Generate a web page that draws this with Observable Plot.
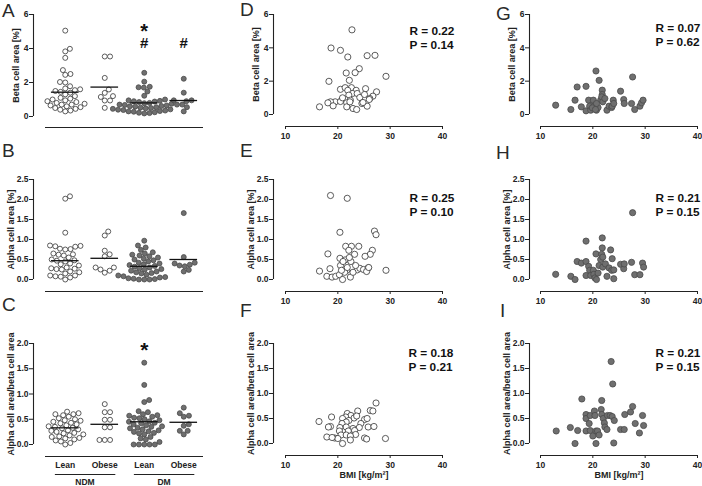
<!DOCTYPE html>
<html><head><meta charset="utf-8">
<script src="https://cdn.jsdelivr.net/npm/d3@7"></script>
<script src="https://cdn.jsdelivr.net/npm/@observablehq/plot@0.6"></script>
<style>
html,body{margin:0;padding:0;background:#fff;}
#fig{position:relative;width:702px;height:486px;overflow:hidden;font-family:"Liberation Sans",Arial,sans-serif;}
.panel{position:absolute;}
.panel svg{overflow:visible;display:block;}
.letter{position:absolute;font-size:19px;color:#2a2a2a;line-height:1;font-family:"Liberation Sans",Arial,sans-serif;}
</style></head><body><div id="fig"></div>
<script>
// ---------- data ----------
const groupLabels = ["Lean", "Obese", "Lean", "Obese"];
const parentLabels = ["NDM", "DM"];

const betaLeanNDM = [5.05, 3.98, 3.83, 3.45, 2.73, 2.5, 2.45, 2.03, 2.0, 1.78, 1.65, 1.6, 1.55, 1.5, 1.45, 1.4, 1.3, 1.2, 1.1, 1.05, 1.0, 0.95, 0.9, 0.85, 0.8, 0.75, 0.7, 0.7, 0.65, 0.6, 0.55, 0.5, 0.45, 0.4, 0.35, 0.3];
const betaObeseNDM = [3.53, 3.53, 2.27, 1.59, 1.39, 1.2, 1.15, 0.94, 0.94, 0.51];
const betaLeanDM = [2.57, 2.05, 1.75, 1.72, 1.7, 1.47, 1.22, 1.0, 0.95, 0.92, 0.9, 0.88, 0.85, 0.8, 0.78, 0.75, 0.7, 0.68, 0.65, 0.62, 0.6, 0.58, 0.55, 0.52, 0.5, 0.48, 0.45, 0.42, 0.4, 0.38, 0.35, 0.32, 0.3, 0.28, 0.25, 0.22, 0.2, 0.18];
const betaObeseDM = [2.22, 1.4, 0.95, 0.95, 0.9, 0.7, 0.7, 0.55, 0.3];
const betaMeans = [1.43, 1.73, 0.8, 0.94];

const alphaLeanNDM = [2.08, 2.02, 1.17, 0.85, 0.84, 0.83, 0.82, 0.77, 0.76, 0.75, 0.65, 0.63, 0.62, 0.6, 0.55, 0.5, 0.48, 0.47, 0.45, 0.4, 0.38, 0.35, 0.3, 0.28, 0.27, 0.26, 0.25, 0.2, 0.18, 0.15, 0.1, 0.1, 0.08, 0.07, 0.05, 0.0];
const alphaObeseNDM = [1.2, 1.1, 0.72, 0.63, 0.58, 0.3, 0.3, 0.25, 0.22, 0.17];
const alphaLeanDM = [0.97, 0.85, 0.8, 0.74, 0.68, 0.65, 0.62, 0.6, 0.58, 0.55, 0.52, 0.5, 0.48, 0.45, 0.42, 0.4, 0.38, 0.36, 0.34, 0.32, 0.3, 0.28, 0.26, 0.25, 0.22, 0.2, 0.18, 0.16, 0.15, 0.12, 0.1, 0.08, 0.06, 0.05, 0.03, 0.02, 0.01, 0.0, 0.0, 0.0];
const alphaObeseDM = [1.66, 0.56, 0.42, 0.4, 0.37, 0.35, 0.33, 0.24, 0.2];
const alphaMeans = [0.47, 0.53, 0.33, 0.5];

const ratioLeanNDM = [0.65, 0.62, 0.6, 0.6, 0.58, 0.55, 0.52, 0.5, 0.48, 0.47, 0.45, 0.43, 0.42, 0.4, 0.38, 0.36, 0.35, 0.33, 0.32, 0.3, 0.28, 0.27, 0.25, 0.23, 0.22, 0.2, 0.18, 0.16, 0.15, 0.13, 0.12, 0.1, 0.08, 0.06, 0.03, 0.0];
const ratioObeseNDM = [0.8, 0.64, 0.64, 0.49, 0.49, 0.34, 0.34, 0.09, 0.09, 0.09];
const ratioLeanDM = [1.62, 1.18, 0.88, 0.84, 0.66, 0.64, 0.6, 0.58, 0.57, 0.55, 0.53, 0.52, 0.5, 0.48, 0.46, 0.45, 0.43, 0.42, 0.4, 0.38, 0.36, 0.35, 0.33, 0.32, 0.3, 0.28, 0.26, 0.25, 0.23, 0.22, 0.2, 0.15, 0.12, 0.1, 0.05, 0.0, 0.0, 0.0, 0.0, 0.0];
const ratioObeseDM = [0.73, 0.62, 0.57, 0.55, 0.4, 0.37, 0.27, 0.27, 0.2];
const ratioMeans = [0.33, 0.4, 0.45, 0.44];

// scatter: [BMI, value]
const ndmBeta = [[22.7,5.08],[18.7,3.99],[20.5,3.85],[21.9,3.45],[25.6,3.53],[27.1,3.55],[24.1,2.75],[23.3,2.51],[21.6,2.49],[29.2,2.29],[18.3,1.99],[22.2,2.05],[20.5,1.51],[21.4,1.61],[22.6,1.61],[21.9,1.45],[23.5,1.45],[25.3,1.55],[27.4,1.36],[22.8,1.26],[23.7,1.26],[22.1,1.16],[24.2,1.02],[25.1,1.2],[26.7,1.1],[26.1,0.96],[20.8,0.9],[19.5,0.76],[18.6,0.76],[18.1,0.7],[21.4,0.9],[22.4,0.86],[20.5,0.78],[21.7,0.7],[19.1,0.52],[16.5,0.46],[21.7,0.46],[22.9,0.36],[23.6,0.3],[24.6,0.66],[25.6,0.5],[22.3,0.76],[20.9,1.0],[24.8,0.72],[26.0,0.9]];
const ndmAlpha = [[18.6,2.1],[21.8,2.03],[20.4,1.18],[27.0,1.21],[27.3,1.12],[21.5,0.83],[22.6,0.83],[24.0,0.83],[18.1,0.64],[22.1,0.73],[26.6,0.73],[23.2,0.63],[26.2,0.63],[25.2,0.58],[20.4,0.53],[21.4,0.49],[22.5,0.45],[20.5,0.35],[18.5,0.27],[16.5,0.21],[29.2,0.23],[21.7,0.23],[23.7,0.24],[24.2,0.28],[24.9,0.25],[25.8,0.29],[25.5,0.2],[17.9,0.08],[18.9,0.06],[19.6,0.08],[20.3,0.12],[20.9,0.0],[22.4,0.06],[21.3,0.18],[22.9,0.18],[20.7,0.23],[21.8,0.3],[23.4,0.35],[25.9,0.3],[22.2,0.55],[21.0,0.45]];
const ndmRatio = [[27.3,0.81],[26.2,0.66],[26.7,0.65],[23.8,0.65],[21.8,0.6],[22.5,0.56],[18.8,0.53],[21.5,0.53],[20.9,0.5],[23.1,0.51],[25.1,0.48],[25.6,0.5],[22.1,0.46],[16.4,0.44],[21.6,0.43],[20.8,0.4],[24.4,0.4],[18.6,0.34],[18.2,0.33],[20.4,0.32],[24.1,0.32],[21.6,0.33],[22.9,0.3],[25.8,0.33],[26.9,0.34],[20.3,0.25],[22.0,0.25],[23.2,0.26],[23.4,0.18],[20.6,0.17],[21.6,0.17],[22.4,0.15],[17.9,0.13],[19.4,0.11],[25.1,0.11],[25.5,0.09],[29.1,0.1],[20.9,0.0],[22.4,0.07],[20.0,0.1],[18.9,0.12],[23.6,0.55]];
const dmBeta = [[12.9,0.56],[15.8,0.3],[16.6,0.86],[17.0,1.65],[18.7,1.69],[17.8,0.46],[18.7,0.22],[19.2,0.86],[19.4,0.5],[19.6,0.26],[20.1,0.86],[20.2,0.5],[20.6,2.61],[20.7,0.26],[21.0,0.42],[21.2,2.05],[21.5,0.86],[21.8,1.46],[21.8,1.2],[21.7,1.06],[21.9,0.76],[22.3,0.96],[22.7,0.26],[23.1,0.5],[23.6,0.42],[23.7,0.5],[23.9,0.86],[24.0,0.66],[25.3,1.4],[25.9,0.9],[26.0,0.66],[27.6,2.25],[27.4,0.66],[28.0,0.3],[29.0,0.5],[29.3,0.7],[29.6,0.86],[20.7,0.66],[19.9,0.4],[20.5,0.3]];
const dmAlpha = [[12.9,0.13],[15.8,0.08],[16.6,0.0],[17.0,0.45],[17.8,0.41],[18.7,0.45],[18.7,0.96],[18.7,0.1],[19.2,0.33],[19.4,0.23],[19.6,0.1],[20.1,0.23],[20.2,0.13],[20.4,0.04],[20.7,0.0],[20.6,0.64],[21.0,0.16],[21.2,0.35],[21.5,0.5],[21.7,0.63],[21.8,0.79],[21.8,1.04],[21.9,0.56],[21.9,0.31],[22.4,0.39],[22.7,0.08],[23.1,0.29],[23.4,0.74],[23.6,0.23],[23.7,0.52],[24.0,0.02],[24.0,0.24],[25.3,0.38],[25.9,0.27],[26.0,0.39],[27.6,1.67],[27.4,0.43],[28.0,0.12],[29.0,0.12],[29.5,0.41],[29.7,0.31]];
const dmRatio = [[13.0,0.25],[15.7,0.32],[16.6,0.0],[17.1,0.26],[17.9,0.89],[18.7,0.58],[18.7,0.5],[18.7,0.25],[19.3,0.4],[19.5,0.56],[19.5,0.26],[20.0,0.15],[20.3,0.65],[20.4,0.56],[20.6,0.25],[20.6,0.0],[20.9,0.25],[21.2,0.17],[21.6,0.68],[21.7,0.58],[21.7,0.86],[22.0,0.5],[22.2,0.41],[22.3,0.33],[22.7,0.28],[22.8,0.56],[23.3,0.56],[23.5,1.64],[23.8,1.19],[23.7,0.54],[24.1,0.46],[24.0,0.01],[25.3,0.28],[26.1,0.58],[26.0,0.28],[27.2,0.63],[27.6,0.74],[28.1,0.4],[28.9,0.21],[29.5,0.56],[29.7,0.36]];

const statR = ["R = 0.22", "R = 0.25", "R = 0.18", "R = 0.07", "R = 0.21", "R = 0.21"];
const statP = ["P = 0.14", "P = 0.10", "P = 0.21", "P = 0.62", "P = 0.15", "P = 0.15"];
const bmiTicks = [10, 20, 30, 40];
const bmiLabel = "BMI [kg/m\u00B2]";

const measures = [
  {title: "Beta cell area [%]", domain: [0, 6], ticks: [0, 2, 4, 6], fmt: d3.format("d")},
  {title: "Alpha cell area [%]", domain: [0, 2.5], ticks: [0, 0.5, 1, 1.5, 2, 2.5], fmt: d3.format(".1f")},
  {title: "Alpha cell area/beta cell area", domain: [0, 2], ticks: [0, 0.5, 1, 1.5, 2], fmt: d3.format(".1f")}
];
const columnGroups = [
  [betaLeanNDM, betaObeseNDM, betaLeanDM, betaObeseDM],
  [alphaLeanNDM, alphaObeseNDM, alphaLeanDM, alphaObeseDM],
  [ratioLeanNDM, ratioObeseNDM, ratioLeanDM, ratioObeseDM]
];
const columnMeans = [betaMeans, alphaMeans, ratioMeans];
// significance marks: [row, group, symbol, value, size]
const marksSig = [[0, 3, "*", 5.0, 20], [0, 3, "#", 4.3, 15], [0, 4, "#", 4.3, 15], [2, 3, "*", 1.86, 21]];
const ndmScatter = [ndmBeta, ndmAlpha, ndmRatio];
const dmScatter = [dmBeta, dmAlpha, dmRatio];

// ---------- layout ----------
const COLS = [
  {left: 0, width: 240, ml: 45, mr: 37, gap: 12},
  {left: 240, width: 230, ml: 45, mr: 28, gap: 12},
  {left: 470, width: 232, ml: 70, mr: 5, gap: 11}
];
const ROWS = [{top: 0, h: 160, mt: 14, titleOff: -17.5}, {top: 160, h: 160, mt: 19, titleOff: -22.5}, {top: 320, h: 166, mt: 23, titleOff: -22.5}];
const MB = [[44, 41, 42], [46, 41, 43], [46, 41, 43]];
const BASE_DY = [[11, 12, 12], [12, 12, 12], [12, 12, 12]];
const STAT_POS = [[124, 23], [124, 25], [123, 16], [115, 20], [115, 25], [115, 16]];
const LETTERS = [
  ["A", 2, 1], ["B", 2, 141], ["C", 2, 295],
  ["D", 240, 0], ["E", 240, 141], ["F", 240, 301],
  ["G", 496, 4], ["H", 496, 143], ["I", 500, 301]
];

const INK = "#222";
const GRAY_FILL = "#6f6f6f", GRAY_STROKE = "#4a4a4a", OPEN_STROKE = "#333";
const baseStyle = {fontFamily: "'Liberation Sans', Arial, sans-serif", fontSize: "8.5px", fontWeight: "bold", color: INK, background: "transparent", overflow: "visible"};

const fig = document.getElementById("fig");

function swarm(vals, pxY, diam) {
  const order = d3.range(vals.length).sort((a, b) => d3.ascending(vals[a], vals[b]));
  const placed = [], off = new Array(vals.length);
  for (const i of order) {
    const y = vals[i] * pxY;
    const cands = [0];
    for (const p of placed) {
      const dy = Math.abs(p.y - y);
      if (dy < diam) { const dx = Math.sqrt(diam * diam - dy * dy); cands.push(p.x + dx, p.x - dx); }
    }
    cands.sort((a, b) => Math.abs(a) - Math.abs(b) || b - a);
    let x = 0;
    for (const c of cands) {
      if (placed.every(p => (p.x - c) ** 2 + (p.y - y) ** 2 >= diam * diam - 1e-6)) { x = c; break; }
    }
    placed.push({x, y}); off[i] = x;
  }
  return off;
}

function yAxis(meas, col, row, xmin) {
  return [
    Plot.ruleX([xmin], {y1: meas.domain[0], y2: meas.domain[1], dx: -col.gap, stroke: INK, strokeWidth: 1.1}),
    Plot.axisY({ticks: meas.ticks, tickFormat: meas.fmt, tickSize: 4, tickPadding: 1, dx: -col.gap, label: null}),
    Plot.text([meas.title], {frameAnchor: "left", textAnchor: "middle", lineAnchor: "middle", rotate: -90, dx: -col.gap + row.titleOff, fontSize: 9, fontWeight: "bold"})
  ];
}

function place(svg, col, row) {
  const div = document.createElement("div");
  div.className = "panel";
  div.style.left = col.left + "px";
  div.style.top = row.top + "px";
  div.appendChild(svg);
  fig.appendChild(div);
}

// ---------- column panels (A, B, C) ----------
for (let r = 0; r < 3; r++) {
  const col = COLS[0], row = ROWS[r], meas = measures[r];
  const mb = MB[0][r];
  const fh = row.h - row.mt - mb;
  const fw = col.width - col.ml - col.mr;
  const pxY = fh / (meas.domain[1] - meas.domain[0]);
  const pxX = fw / 4;
  const pts = [];
  columnGroups[r].forEach((vals, gi) => {
    const off = swarm(vals, pxY, 5.3);
    vals.forEach((v, i) => pts.push({g: gi + 1, x: gi + 1 + off[i] / pxX, y: v, dm: gi >= 2}));
  });
  const means = columnMeans[r].map((m, gi) => ({g: gi + 1, mean: m}));
  const sig = marksSig.filter(s => s[0] === r).map(s => ({g: s[1], sym: s[2], y: s[3], size: s[4]}));
  const marks = [
    Plot.ruleY([meas.domain[0]], {dy: BASE_DY[0][r], stroke: INK, strokeWidth: 1.2}),
    ...yAxis(meas, col, row, 0.5),
    Plot.dot(pts.filter(d => !d.dm), {x: "x", y: "y", r: 2.5, fill: "white", stroke: OPEN_STROKE, strokeWidth: 0.8}),
    Plot.dot(pts.filter(d => d.dm), {x: "x", y: "y", r: 2.5, fill: GRAY_FILL, stroke: GRAY_STROKE, strokeWidth: 0.8}),
    Plot.ruleY(means, {y: "mean", x1: d => d.g - 0.35, x2: d => d.g + 0.35, stroke: "#111", strokeWidth: 1.3}),
    ...sig.map(s => Plot.text([s], {x: "g", y: "y", text: "sym", fontSize: s.size, fontWeight: "bold", fill: "#111", lineAnchor: "middle"}))
  ];
  const xOpts = {domain: [0.5, 4.5]};
  if (r === 2) {
    const parents = parentLabels.map((p, i) => ({label: p, from: 2 * i + 1, to: 2 * i + 2}));
    marks.push(
      Plot.axisX({ticks: [1, 2, 3, 4], tickFormat: d => groupLabels[d - 1], tickSize: 0, tickPadding: 3, dy: 14, label: null}),
      Plot.ruleY(parents, {y: () => meas.domain[0], x1: d => d.from - 0.25, x2: d => d.to + 0.28, dy: 30, stroke: INK, strokeWidth: 1.1}),
      Plot.text(parents, {x: d => (d.from + d.to) / 2, y: () => meas.domain[0], text: "label", dy: 38, fontSize: 8.5, fontWeight: "bold"})
    );
  } else {
    xOpts.axis = null;
  }
  const svg = Plot.plot({
    width: col.width, height: row.h,
    marginLeft: col.ml, marginRight: col.mr, marginTop: row.mt, marginBottom: mb,
    x: xOpts,
    y: {domain: meas.domain},
    style: baseStyle,
    marks
  });
  place(svg, col, row);
}

// ---------- scatter panels (D-I) ----------
[ndmScatter, dmScatter].forEach((set, si) => {
  const c = si + 1;
  const col = COLS[c];
  for (let r = 0; r < 3; r++) {
    const row = ROWS[r], meas = measures[r];
    const mb = MB[c][r];
    const data = set[r];
    const k = si * 3 + r;
    const open = si === 0;
    const marks = [
      Plot.ruleY([meas.domain[0]], {dy: BASE_DY[c][r], stroke: INK, strokeWidth: 1.2}),
      Plot.axisX({ticks: bmiTicks, tickSize: 3, tickPadding: 3, dy: BASE_DY[c][r], label: null}),
      ...yAxis(meas, col, row, 10),
      Plot.dot(data, {x: d => d[0], y: d => d[1], r: 3.1, fill: open ? "white" : GRAY_FILL, stroke: open ? OPEN_STROKE : GRAY_STROKE, strokeWidth: 0.8}),
      Plot.text([statR[k] + "\n" + statP[k]], {frameAnchor: "top-left", textAnchor: "start", lineAnchor: "middle", dx: STAT_POS[k][0], dy: STAT_POS[k][1], fontSize: 11.8, fontWeight: "bold", lineHeight: 1.23, fill: "#111"})
    ];
    if (r === 2) {
      marks.push(Plot.text([bmiLabel], {frameAnchor: "bottom", textAnchor: "middle", dy: 34, fontSize: 9, fontWeight: "bold"}));
    }
    const svg = Plot.plot({
      width: col.width, height: row.h,
      marginLeft: col.ml, marginRight: col.mr, marginTop: row.mt, marginBottom: mb,
      x: {domain: [10, 40]},
      y: {domain: meas.domain},
      style: baseStyle,
      marks
    });
    place(svg, col, row);
  }
});

// ---------- panel letters ----------
for (const [t, x, y] of LETTERS) {
  const d = document.createElement("div");
  d.className = "letter";
  d.textContent = t;
  d.style.left = x + "px";
  d.style.top = y + "px";
  fig.appendChild(d);
}
</script></body></html>
